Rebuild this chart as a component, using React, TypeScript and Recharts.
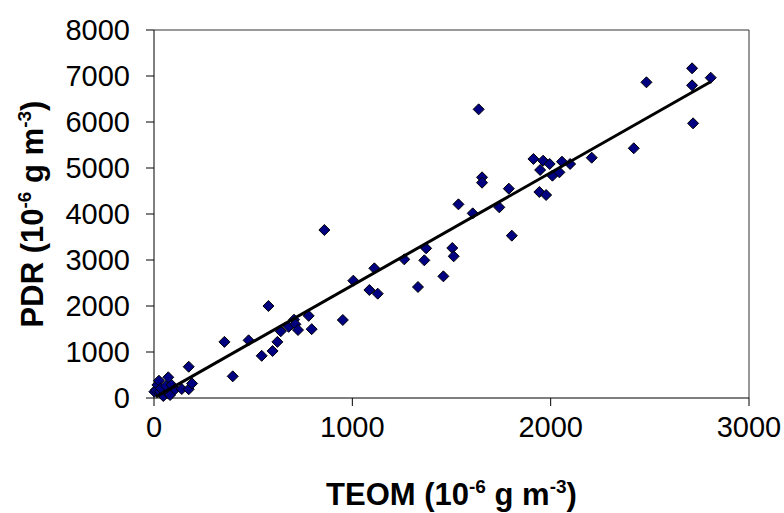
import { ReferenceLine, Scatter, ScatterChart, XAxis, YAxis } from "recharts";

// TEOM (x) and PDR (y) pairs
const teom = [
  2, 10, 17, 25, 30, 35, 47, 60, 72, 72, 81, 89, 106, 140, 175, 192, 175,
  355, 397, 477, 543, 577, 598, 622, 639, 679, 706, 713, 726, 780, 795, 859, 952,
  1005, 1086, 1111, 1128, 1262, 1331, 1363, 1372, 1459, 1504, 1511, 1535, 1607,
  1637, 1654, 1654, 1741, 1789, 1804, 1913, 1943, 1947, 1962, 1977, 1995, 2009,
  2044, 2057, 2098, 2207, 2419, 2483, 2713, 2713, 2718, 2807,
];
const pdr = [
  137, 174, 283, 376, 137, 211, 43, 261, 450, 102, 65, 283, 189, 195, 190, 315, 680,
  1220, 471, 1254, 917, 2000, 1022, 1220, 1450, 1547, 1703, 1602, 1478, 1786, 1497, 3652, 1696,
  2551, 2348, 2819, 2268, 3014, 2413, 2993, 3254, 2645, 3261, 3080, 4210, 4014,
  6275, 4797, 4681, 4145, 4551, 3529, 5196, 4478, 4957, 5159, 4413, 5087, 4833,
  4906, 5138, 5087, 5224, 5428, 6863, 7167, 6797, 5971, 6963,
];

// linear trendline end points
const trendTeom = [10, 2807];
const trendPdr = [25, 6876];

const xTicks = [0, 1000, 2000, 3000];
const yTicks = [0, 1000, 2000, 3000, 4000, 5000, 6000, 7000, 8000];

const points = teom.map((x, i) => ({ x, y: pdr[i] }));
const trend = trendTeom.map((x, i) => ({ x, y: trendPdr[i] }));

const font = "'Liberation Sans', Arial, sans-serif";

const Diamond = (props: any) => {
  const { cx, cy } = props;
  const r = 5.5;
  return (
    <path
      d={`M${cx},${cy - r}L${cx + r},${cy}L${cx},${cy + r}L${cx - r},${cy}Z`}
      fill="#000080"
      stroke="#000"
      strokeWidth={1}
    />
  );
};

// title text with superscript exponents
const TitleText = ({ name }: { name: string }) => (
  <>
    {name} (10
    <tspan dy={-12} fontSize={19}>-6</tspan>
    <tspan dy={12}> g m</tspan>
    <tspan dy={-12} fontSize={19}>-3</tspan>
    <tspan dy={12}>)</tspan>
  </>
);

const XTitle = (props: any) => {
  const { x, y, width } = props.viewBox;
  return (
    <text x={x + width / 2} y={y + 107} textAnchor="middle" fontFamily={font} fontWeight="bold" fontSize={31} fill="#000">
      <TitleText name="TEOM" />
    </text>
  );
};

const YTitle = (props: any) => {
  const { y, height } = props.viewBox;
  const cx = 43;
  const cy = y + height / 2;
  return (
    <text x={cx} y={cy} transform={`rotate(-90, ${cx}, ${cy})`} textAnchor="middle" fontFamily={font} fontWeight="bold" fontSize={31} fill="#000">
      <TitleText name="PDR" />
    </text>
  );
};

export default function App() {
  return (
    <div style={{ position: "absolute", left: 0, top: 0, background: "#fff" }}>
      <ScatterChart width={784} height={513} margin={{ top: 30, right: 35, bottom: 5, left: 4 }}>
        <XAxis
          type="number"
          dataKey="x"
          domain={[0, 3000]}
          ticks={xTicks}
          tickSize={8}
          tickMargin={10}
          height={110}
          stroke="#000"
          tick={{ fontSize: 29, fill: "#000", fontFamily: font }}
          label={<XTitle />}
        />
        <YAxis
          type="number"
          dataKey="y"
          domain={[0, 8000]}
          ticks={yTicks}
          tickSize={8}
          tickMargin={16}
          width={150}
          stroke="#000"
          tick={{ fontSize: 29, fill: "#000", fontFamily: font }}
          label={<YTitle />}
        />
        <ReferenceLine y={8000} stroke="#333" />
        <ReferenceLine x={3000} stroke="#333" />
        <Scatter data={points} shape={<Diamond />} isAnimationActive={false} />
        <Scatter
          data={trend}
          line={{ stroke: "#000", strokeWidth: 3 }}
          shape={() => <g />}
          isAnimationActive={false}
        />
      </ScatterChart>
    </div>
  );
}
